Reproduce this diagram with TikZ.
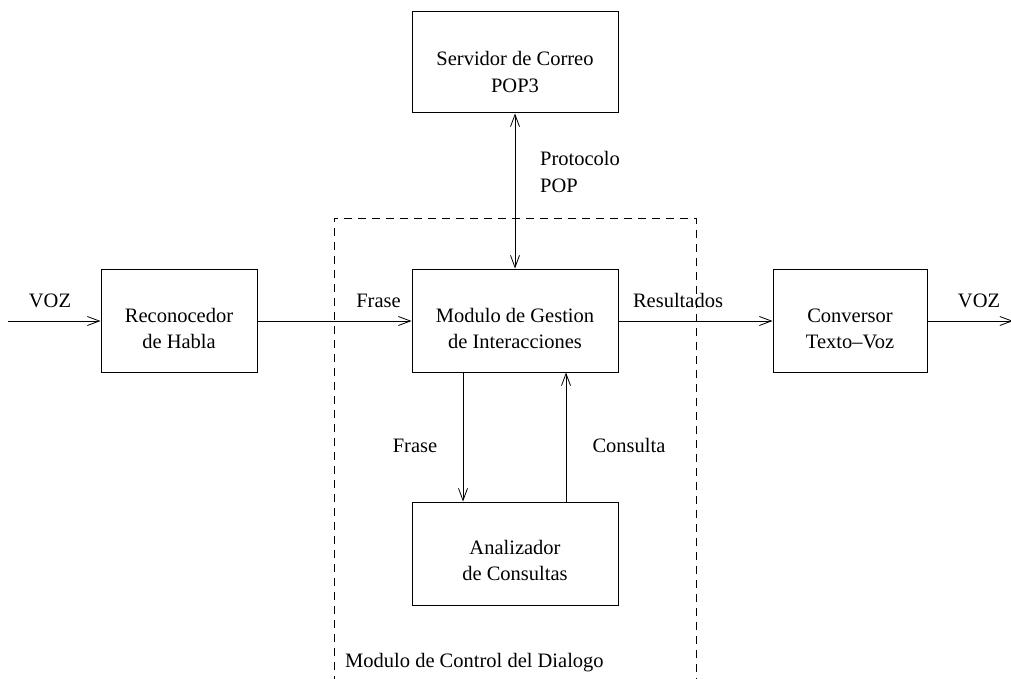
\documentclass[tikz,border=0pt]{standalone}
\usepackage{fontspec}
\setmainfont{Liberation Serif}
\usetikzlibrary{arrows.meta}
\begin{document}
\begin{tikzpicture}[x=1pt,y=-1pt,
  blk/.style={draw,line width=1pt,minimum width=#1,inner sep=0pt},
  txt/.style={inner sep=0pt,anchor=base,font=\fontsize{20.5}{26}\selectfont},
  arr/.style={line width=0.8pt,-{Straight Barb[length=12pt,width=9pt,line width=0.8pt]}},
  darr/.style={line width=0.8pt,{Straight Barb[length=12pt,width=9pt,line width=0.8pt]}-{Straight Barb[length=12pt,width=9pt,line width=0.8pt]}}]
\useasboundingbox (0,0) rectangle (1011,679);
% dashed module boundary
\draw[dashed,line width=0.8pt,dash pattern=on 8pt off 6pt] (334,740) -- (334,218) -- (696,218) -- (696,740);
\node[txt,anchor=base west] (ctrl) at (345,667) {Modulo de Control del Dialogo};
% blocks
\node[blk=206pt,minimum height=101pt] (serv) at (515,62.5) {};
\node[txt] (serv1) at (515,66) {Servidor de Correo};
\node[txt] (serv2) at (515,93) {POP3};
\node[blk=156pt,minimum height=103pt] (rec) at (179,320.5) {};
\node[txt] (rec1) at (179,322) {Reconocedor};
\node[txt] (rec2) at (179,348) {de Habla};
\node[blk=206pt,minimum height=103pt] (mgi) at (515,320.5) {};
\node[txt] (mgi1) at (515,322) {Modulo de Gestion};
\node[txt] (mgi2) at (515,348) {de Interacciones};
\node[blk=154pt,minimum height=103pt] (conv) at (850,320.5) {};
\node[txt] (conv1) at (850,322) {Conversor};
\node[txt] (conv2) at (850,348) {Texto\textendash Voz};
\node[blk=206pt,minimum height=103pt] (ana) at (515,553.5) {};
\node[txt] (ana1) at (515,554) {Analizador};
\node[txt] (ana2) at (515,580) {de Consultas};
% free ends
\coordinate (in) at (8,321);
\coordinate (out) at (1013,321);
% connectors
\draw[arr] (in) -- (rec.west |- in);
\draw[arr] (rec.east |- in) -- (mgi.west |- in);
\draw[arr] (mgi.east |- in) -- (conv.west |- in);
\draw[arr] (conv.east |- in) -- (out);
\draw[darr] (serv.south) -- (mgi.north);
\coordinate (a1) at (463,372);
\coordinate (a2) at (566,502);
\draw[arr] (a1 |- mgi.south) -- (a1 |- ana.north);
\draw[arr] (a2 |- ana.north) -- (a2 |- mgi.south);
% labels
\node[txt] (l1) at (50,307) {VOZ};
\node[txt] (l2) at (378.5,307) {Frase};
\node[txt] (l3) at (678,307) {Resultados};
\node[txt] (l4) at (979,307) {VOZ};
\node[txt,anchor=base west] (l5a) at (540,166) {Protocolo};
\node[txt,anchor=base west] (l5b) at (540,193) {POP};
\node[txt] (l6) at (415,452) {Frase};
\node[txt] (l7) at (629,452) {Consulta};
\end{tikzpicture}
\end{document}
